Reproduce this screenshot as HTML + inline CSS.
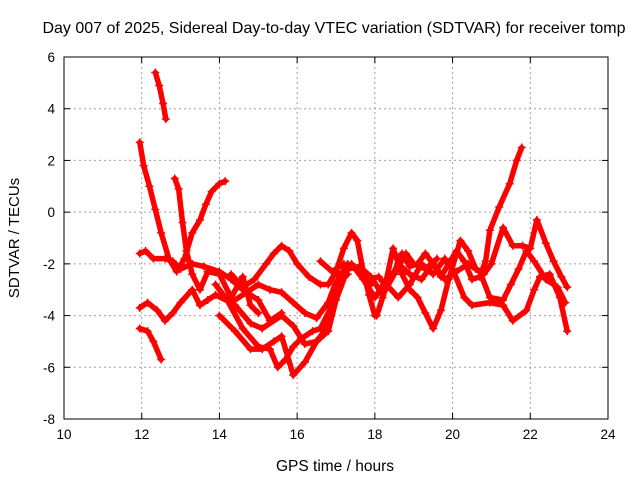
<!DOCTYPE html>
<html><head><meta charset="utf-8"><style>
body{margin:0;background:#fff}
svg{display:block;font-family:"Liberation Sans",sans-serif}
</style></head><body>
<svg id="c" width="640" height="480" xmlns="http://www.w3.org/2000/svg"></svg>
<script>
const xTicks=[10,12,14,16,18,20,22,24];
const yTicks=[6,4,2,0,-2,-4,-6,-8];
const trackA=[[12.35,5.4],[12.45,4.9],[12.55,4.2],[12.62,3.6]];
const trackB=[[11.95,2.7],[12.05,1.8],[12.2,1.0],[12.35,0.1],[12.5,-0.8],[12.7,-1.8],[12.9,-2.3],[13.1,-1.8],[13.3,-0.8],[13.5,-0.3],[13.65,0.3],[13.8,0.8],[14.0,1.1],[14.15,1.2]];
const trackC=[[12.85,1.3],[12.95,0.9],[13.05,-0.4],[13.15,-1.5],[13.3,-2.4],[13.5,-3.0],[13.7,-2.3],[14.0,-2.4],[14.3,-3.3],[14.6,-2.5],[14.8,-3.6],[15.0,-3.9]];
const trackD=[[11.95,-1.6],[12.1,-1.5],[12.3,-1.8],[12.6,-1.8],[12.8,-1.9],[13.0,-2.2],[13.3,-2.0],[13.6,-2.1],[14.0,-2.3],[14.3,-2.6],[14.6,-3.0],[15.0,-3.4],[15.3,-4.2],[15.6,-3.9]];
const trackE=[[11.95,-3.7],[12.15,-3.5],[12.4,-3.8],[12.6,-4.2],[12.8,-3.9],[13.0,-3.5],[13.3,-3.0],[13.5,-3.6],[13.7,-3.4],[13.9,-3.2],[14.3,-3.5],[14.7,-3.1],[15.0,-2.8],[15.3,-3.0],[15.6,-3.1],[15.9,-3.5],[16.2,-3.9],[16.5,-4.1],[16.8,-3.5],[17.0,-2.7],[17.3,-2.4]];
const trackF=[[11.95,-4.5],[12.15,-4.6],[12.3,-5.0],[12.5,-5.7]];
const trackG=[[14.3,-2.4],[14.6,-2.9],[14.9,-2.6],[15.2,-2.0],[15.4,-1.6],[15.6,-1.3],[15.8,-1.5],[16.0,-2.0],[16.3,-2.5],[16.6,-2.8],[16.8,-2.8],[17.0,-2.3],[17.2,-1.4],[17.4,-0.8],[17.55,-1.1],[17.7,-2.3],[17.85,-3.2],[18.0,-4.0]];
const trackH=[[13.9,-2.8],[14.2,-3.4],[14.6,-4.5],[15.0,-5.2],[15.3,-5.3],[15.5,-6.0],[15.7,-5.7],[15.9,-5.2],[16.1,-4.9],[16.4,-4.6],[16.6,-4.5],[16.9,-3.6],[17.1,-2.5],[17.3,-2.0],[17.6,-2.3],[17.9,-2.8]];
const trackI=[[14.4,-3.6],[14.8,-4.3],[15.1,-4.5],[15.6,-4.0],[15.9,-4.4],[16.2,-5.1],[16.5,-5.0],[16.7,-4.6],[16.9,-3.4],[17.1,-2.4],[17.4,-2.0],[17.7,-2.6],[18.0,-3.3],[18.3,-2.6]];
const trackJ=[[14.0,-4.0],[14.4,-4.6],[14.8,-5.3],[15.1,-5.3],[15.4,-5.0],[15.6,-4.8],[15.9,-6.3],[16.2,-5.8],[16.5,-5.0],[16.8,-4.6],[17.0,-3.4],[17.3,-2.2],[17.6,-2.1],[17.9,-2.5],[18.2,-3.2],[18.5,-2.4],[18.8,-1.6],[19.0,-2.0],[19.3,-2.2],[19.6,-1.8]];
const trackK=[[16.6,-1.9],[16.9,-2.3],[17.2,-2.0],[17.5,-2.2],[17.8,-2.6],[18.1,-2.5],[18.3,-2.9],[18.5,-2.3],[18.7,-1.6],[18.9,-2.1],[19.1,-2.0],[19.3,-1.6],[19.5,-2.0],[19.7,-2.5],[19.9,-2.0],[20.1,-1.5],[20.3,-1.9],[20.5,-2.6],[20.7,-2.5],[20.85,-1.9],[20.96,-0.7],[21.2,0.2],[21.47,1.1],[21.65,2.0],[21.78,2.5]];
const trackL=[[18.05,-4.0],[18.2,-3.3],[18.47,-1.4],[18.7,-2.4],[18.9,-3.0],[19.1,-3.3],[19.3,-3.9],[19.5,-4.5],[19.7,-3.8],[19.9,-2.6],[20.1,-1.6],[20.2,-1.1],[20.4,-1.5],[20.6,-2.2],[20.8,-2.4],[21.0,-2.0],[21.3,-0.6],[21.55,-1.3],[21.8,-1.3],[22.0,-1.4],[22.17,-0.3],[22.4,-1.2],[22.6,-1.9],[22.8,-2.5],[22.95,-2.9]];
const trackM=[[18.3,-2.8],[18.6,-3.3],[18.9,-2.8],[19.2,-2.0],[19.5,-2.4],[19.8,-1.8],[20.0,-2.2],[20.3,-3.3],[20.5,-3.6],[20.96,-3.5],[21.3,-3.6],[21.55,-4.2],[21.9,-3.8],[22.1,-3.0],[22.25,-2.5],[22.5,-2.4],[22.76,-3.3],[22.95,-4.6]];
const trackN=[[18.6,-2.0],[18.9,-2.4],[19.2,-2.6],[19.5,-2.0],[19.8,-2.6],[20.1,-2.3],[20.4,-2.0],[20.7,-2.3],[20.96,-3.3],[21.3,-3.4],[21.5,-2.8],[21.7,-2.2],[21.9,-1.5],[22.1,-1.9],[22.4,-2.6],[22.7,-2.9],[22.9,-3.5]];
const tracks=[trackA,trackB,trackC,trackD,trackE,trackF,trackG,trackH,trackI,trackJ,trackK,trackL,trackM,trackN];
const NS="http://www.w3.org/2000/svg",svg=document.getElementById('c');
const L=64,R=608,T=57,B=419;
const sx=h=>L+(h-10)/14*(R-L), sy=v=>T+(6-v)/14*(B-T);
function mk(t,a,p){const e=document.createElementNS(NS,t);for(const k in a)e.setAttribute(k,a[k]);(p||svg).appendChild(e);return e;}
const grid=mk('g',{});


xTicks.forEach(t=>{const x=sx(t);
 if(t>10&&t<24)mk('line',{x1:x,y1:T,x2:x,y2:B,stroke:'#a0a0a0','stroke-dasharray':'2,3'},grid);
 mk('line',{x1:x,y1:B,x2:x,y2:B-6,stroke:'#000'},grid);mk('line',{x1:x,y1:T,x2:x,y2:T+6,stroke:'#000'},grid);
 const tx=mk('text',{x:x,y:B+20,'text-anchor':'middle','font-size':13.5},grid);tx.textContent=t;
 
 });
yTicks.forEach(t=>{const y=sy(t);
 if(t<6&&t>-8)mk('line',{x1:L,y1:y,x2:R,y2:y,stroke:'#a0a0a0','stroke-dasharray':'2,3'},grid);
 mk('line',{x1:L,y1:y,x2:L+6,y2:y,stroke:'#000'},grid);mk('line',{x1:R,y1:y,x2:R-6,y2:y,stroke:'#000'},grid);
 const tx=mk('text',{x:L-9,y:y+5,'text-anchor':'end','font-size':13.5},grid);tx.textContent=t;
 
 });
const frame=mk('rect',{x:L,y:T,width:R-L,height:B-T,fill:'none',stroke:'#000'});


tracks.forEach((tr,i)=>{const g=mk('g',{});
 
 
 mk('polyline',{points:tr.map(p=>sx(p[0])+','+sy(p[1])).join(' '),fill:'none',stroke:'#f00','stroke-width':5.5,'stroke-linejoin':'round','stroke-linecap':'round'},g);
 tr.forEach(p=>{const x=sx(p[0]),y=sy(p[1]);
  mk('path',{d:`M${x-4},${y}H${x+4}M${x},${y-4}V${y+4}`,stroke:'#f00','stroke-width':1.5},g);});});
const t1=mk('text',{x:334,y:33,'text-anchor':'middle','font-size':16});t1.textContent='Day 007 of 2025, Sidereal Day-to-day VTEC variation (SDTVAR) for receiver tomp';


const t2=mk('text',{x:335,y:471,'text-anchor':'middle','font-size':15.5});t2.textContent='GPS time / hours';


const t3=mk('text',{x:19,y:238,'text-anchor':'middle','font-size':15,transform:'rotate(-90 19 238)'});t3.textContent='SDTVAR / TECUs';


</script>
</body></html>
